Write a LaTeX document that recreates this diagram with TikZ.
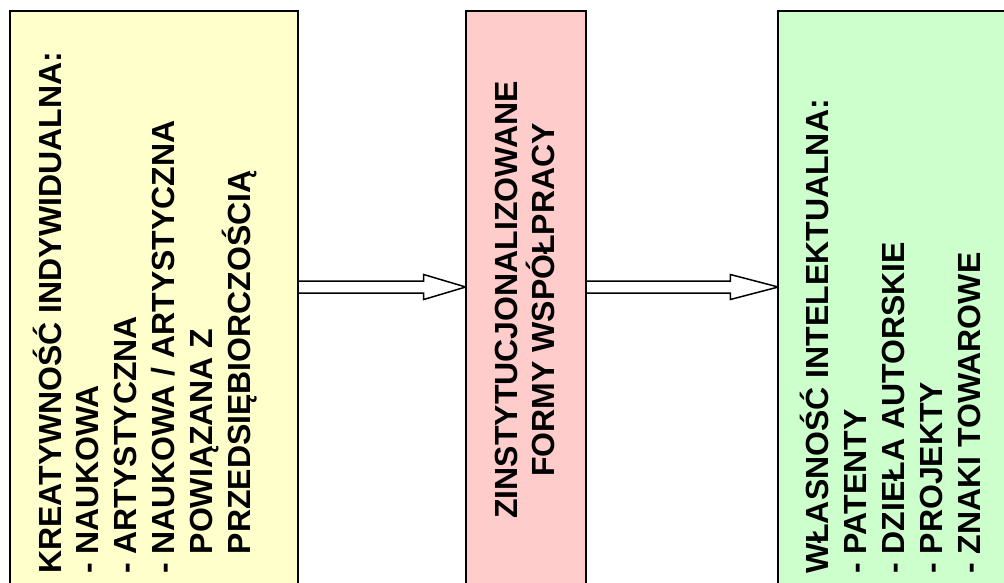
\documentclass[tikz,border=0pt]{standalone}
\usepackage{fontspec}
\setmainfont{Liberation Sans}
\usetikzlibrary{calc}
\pgfdeclarelayer{bg}
\pgfsetlayers{bg,main}
\definecolor{boxyellow}{HTML}{FFFFCC}
\definecolor{boxpink}{HTML}{FFCCCC}
\definecolor{boxgreen}{HTML}{CCFFCC}

\tikzset{
  panel/.style={draw=black, line width=2pt, rectangle, inner sep=0pt, outer sep=0pt, anchor=north west},
  vtext/.style={rotate=90, inner sep=0pt, font=\fontsize{32}{38}\selectfont\bfseries, text=black},
  hollow/.style={draw=black, line width=1.5pt, fill=white, line join=miter},
}

% hollow block arrow from the east side of #1 to the west side of #2, head length #3
\newcommand{\hollowarrow}[3]{%
  \draw[hollow]
    ($(#1.east|-row)+(0,-6)$) -- ($(#2.west|-row)+(-#3,-6)$)
    -- ($(#2.west|-row)+(-#3,-12.5)$) -- (#2.west|-row)
    -- ($(#2.west|-row)+(-#3,12.5)$) -- ($(#2.west|-row)+(-#3,6)$)
    -- ($(#1.east|-row)+(0,6)$);
}

\begin{document}
\begin{tikzpicture}[x=1pt, y=-1pt]
  \useasboundingbox (0,0) rectangle (1004,582);
  \clip (0,0) rectangle (1004,582);

  % three panels, running past the lower (and right) edge
  \node[panel, fill=boxyellow, minimum width=287.5pt, minimum height=600pt] (kre) at (10,11) {};
  \node[panel, fill=boxpink,   minimum width=120pt,   minimum height=600pt] (zin) at (465.7,10.5) {};
  \node[panel, fill=boxgreen,  minimum width=250pt,   minimum height=600pt] (wla) at (778.3,11) {};

  % connectors
  \coordinate (row) at (0,287);
  \begin{pgfonlayer}{bg}
    \hollowarrow{kre}{zin}{42}
    \hollowarrow{zin}{wla}{48}
  \end{pgfonlayer}

  % left panel text
  \node[vtext, anchor=base west] (k1) at (61,574)    {KREATYWNOŚĆ INDYWIDUALNA:};
  \node[vtext, anchor=base west] (k2) at (98.8,574)  {- NAUKOWA};
  \node[vtext, anchor=base west] (k3) at (136.6,574) {- ARTYSTYCZNA};
  \node[vtext, anchor=base west] (k4) at (174.4,574) {- NAUKOWA / ARTYSTYCZNA};
  \node[vtext, anchor=base west] (k5) at (212.2,574) {\phantom{- }POWIĄZANA Z};
  \node[vtext, anchor=base west] (k6) at (250,574)   {\phantom{- }PRZEDSIĘBIORCZOŚCIĄ};

  % middle panel text
  \node[vtext, anchor=base] (z1) at (517,300) {ZINSTYTUCJONALIZOWANE};
  \node[vtext, anchor=base] (z2) at (554,300) {FORMY WSPÓŁPRACY};

  % right panel text
  \node[vtext, anchor=base west] (w1) at (828,574) {WŁASNOŚĆ INTELEKTUALNA:};
  \node[vtext, anchor=base west] (w2) at (866,574) {- PATENTY};
  \node[vtext, anchor=base west] (w3) at (904,574) {- DZIEŁA AUTORSKIE};
  \node[vtext, anchor=base west] (w4) at (942,574) {- PROJEKTY};
  \node[vtext, anchor=base west] (w5) at (980,574) {- ZNAKI TOWAROWE};
\end{tikzpicture}
\end{document}
